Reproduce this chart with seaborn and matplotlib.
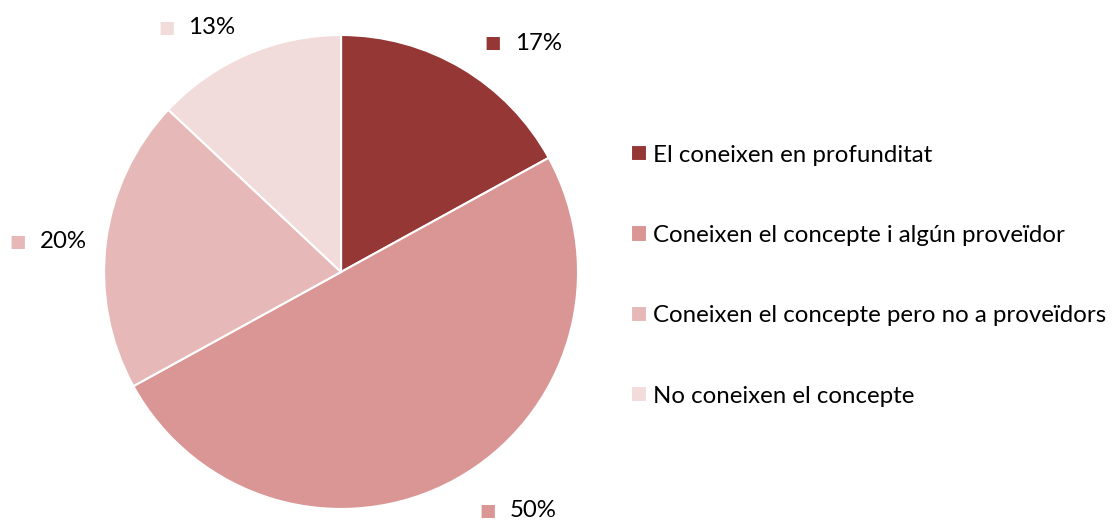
import matplotlib
matplotlib.use("Agg")
import matplotlib.pyplot as plt
import seaborn as sns

sns.set_theme(style="white")
plt.rcParams['font.family'] = ['Lato', 'DejaVu Sans']
plt.rcParams['text.color'] = 'black'

categories = ["El coneixen en profunditat",
              "Coneixen el concepte i algún proveïdor",
              "Coneixen el concepte pero no a proveïdors",
              "No coneixen el concepte"]
values = [17, 50, 20, 13]
pct_labels = ["17%", "50%", "20%", "13%"]
colors = ["#953735", "#D99694", "#E6B9B8", "#F2DCDB"]
# label marker positions (layout, in units of pie radius)
label_pos = [(0.641, 0.966), (0.620, -1.008), (-1.363, 0.127), (-0.738, 1.03)]

fig = plt.figure(figsize=(11.2, 5.2), dpi=100)
ax = fig.add_axes([0.0929, 0.0212, 0.4232, 0.9115])
wedges, _ = ax.pie(values, colors=colors, startangle=90, counterclock=False,
                   radius=1.0, wedgeprops=dict(edgecolor="white", linewidth=1.5))
ax.set_xlim(-1, 1)
ax.set_ylim(-1, 1)
ax.set_aspect('equal')
ax.axis('off')

for (x, y), lab, c in zip(label_pos, pct_labels, colors):
    ax.text(x, y, "■", color=c, fontsize=12.5, ha="center", va="center",
            family=["DejaVu Sans"], clip_on=False)
    ax.text(x + 0.093, y, lab, color="black", fontsize=17.3, ha="left", va="center",
            clip_on=False)

fig.legend(wedges, categories, loc="center left", bbox_to_anchor=(0.563, 0.470),
           frameon=False, fontsize=17.3, handlelength=0.67, handleheight=0.67,
           handletextpad=0.25, labelspacing=2.47, borderpad=0, borderaxespad=0,
           labelcolor="black")

fig.savefig("out.png", dpi=100)
